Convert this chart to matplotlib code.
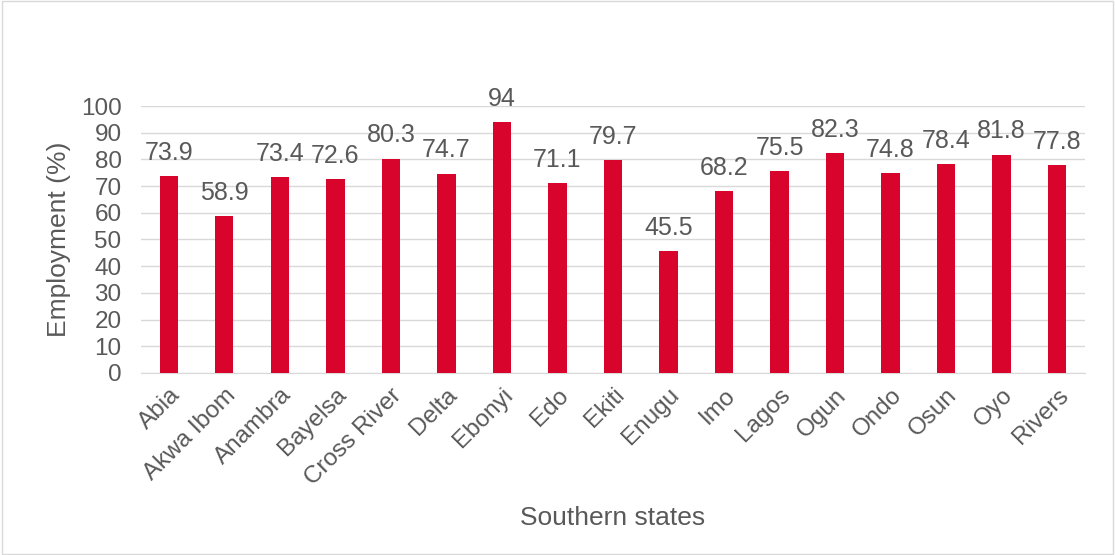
import matplotlib.pyplot as plt
from matplotlib.patches import Rectangle

states = ["Abia", "Akwa Ibom", "Anambra", "Bayelsa", "Cross River", "Delta", "Ebonyi",
          "Edo", "Ekiti", "Enugu", "Imo", "Lagos", "Ogun", "Ondo", "Osun", "Oyo", "Rivers"]
employment = [73.9, 58.9, 73.4, 72.6, 80.3, 74.7, 94, 71.1, 79.7, 45.5, 68.2, 75.5,
              82.3, 74.8, 78.4, 81.8, 77.8]
y_ticks = list(range(0, 101, 10))

grey = "#595959"
plt.rcParams["font.family"] = ["Liberation Sans", "DejaVu Sans"]

fig = plt.figure(figsize=(11.15, 5.55), dpi=100)
ax = fig.add_axes([0.1265, 0.328, 0.8465, 0.481])

x = range(len(states))
bars = ax.bar(x, employment, width=0.33, color="#D9042B", zorder=3)

for b, v in zip(bars, employment):
    ax.annotate(f"{v:g}", (b.get_x() + b.get_width() / 2, v), xytext=(0, 8),
                textcoords="offset points", ha="center", va="bottom",
                fontsize=18, color=grey)

ax.set_xlim(-0.5, len(states) - 0.5)
ax.set_ylim(0, 100)
ax.set_yticks(y_ticks)
ax.yaxis.grid(True, color="#D9D9D9", linewidth=1, zorder=0)
for s in ["top", "right", "left"]:
    ax.spines[s].set_visible(False)
ax.spines["bottom"].set_color("#D9D9D9")
ax.tick_params(axis="both", length=0, labelsize=17.5, colors=grey)
ax.tick_params(axis="y", pad=14)
ax.set_xticks(list(x))
ax.set_xticklabels(states, rotation=45, ha="right", rotation_mode="anchor")
ax.tick_params(axis="x", pad=8)

ax.set_ylabel("Employment (%)", fontsize=19, color=grey, labelpad=7)
ax.set_xlabel("Southern states", fontsize=19, color=grey, labelpad=12)

fig.patches.append(Rectangle((0.002, 0.002), 0.996, 0.996, transform=fig.transFigure,
                             fill=False, edgecolor="#D9D9D9", linewidth=1))

fig.savefig("out.png", dpi=100)
